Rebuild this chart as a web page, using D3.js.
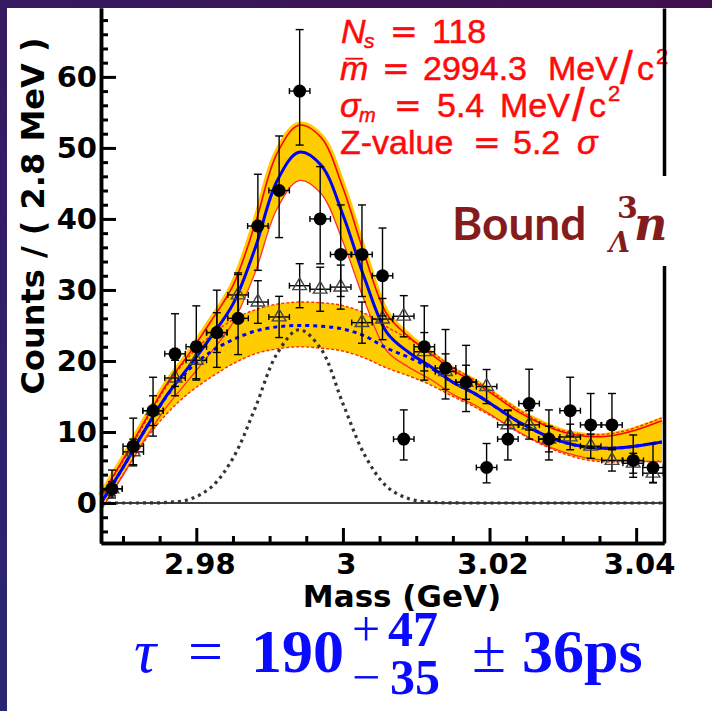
<!doctype html>
<html lang="en">
<head>
  <meta charset="utf-8">
  <title>mass fit</title>
  <style>
    * { margin: 0; padding: 0; box-sizing: border-box; }
    body { width: 712px; height: 711px; overflow: hidden; background: #2e1a5c; }
  </style>
</head>

<body>
  <div class="chart"></div>
  <script src="https://cdn.jsdelivr.net/npm/d3@7"></script>
  <script>
    // ---------------------------------------------------------------
    //@@ data
    const binMass = [2.9685, 2.9714, 2.9741, 2.9771, 2.9800, 2.9828, 2.9857, 2.9884, 2.9913, 2.9941,
                     2.9969, 2.9997, 3.0026, 3.0054, 3.0083, 3.0111, 3.0140, 3.0168, 3.0196, 3.0225,
                     3.0254, 3.0281, 3.0310, 3.0338, 3.0367, 3.0396, 3.0423];
    const binHalfWidth = 0.0014;

    const dataCounts = [2, 8, 13, 21, 22, 24, 26, 39, 44, 58, 40, 35, 35, 32, 9, 22, 19, 17, 5, 9, 14, 9, 13, 11, 11, 6, 5];
    const dataErrLo = [1.29, 2.77, 3.58, 4.58, 4.69, 4.90, 5.10, 6.24, 6.63, 7.60, 6.32, 5.92, 5.92, 5.66, 2.94,
                       4.69, 4.35, 4.12, 2.16, 2.94, 3.72, 2.94, 3.58, 3.27, 3.27, 2.38, 2.16];
    const dataErrHi = [2.64, 3.95, 4.71, 5.65, 5.76, 5.97, 6.17, 7.29, 7.68, 8.66, 7.37, 6.97, 6.97, 6.72, 4.11,
                       5.76, 5.43, 5.20, 3.38, 4.11, 4.84, 4.11, 4.71, 4.42, 4.42, 3.58, 3.38];

    const openCounts = [2, 7.2, 13, 17.6, 20.1, 24, 29.3, 28.3, 26.2, 30.6, 30.1, 30.4, 25.4, 25.9, 26.3,
                        21.3, 18.5, 17.0, 16.4, 11.0, 11.0, 9.0, 9.3, 8.0, 6.0, 5.6, 4.2];
    const openErr = [1.0, 1.8, 2.1, 2.5, 2.6, 2.8, 3.1, 3.0, 2.9, 3.1, 3.1, 3.1, 2.9, 2.9, 2.9,
                     2.7, 2.5, 2.4, 2.4, 2.0, 2.0, 1.8, 1.8, 1.7, 1.5, 1.4, 1.3];

    //@@ fit curves sampled along mass
    const curveMass = [2.967, 2.970, 2.973, 2.976, 2.979, 2.982, 2.985, 2.988, 2.991, 2.994, 2.997, 3.000, 3.003,
                       3.006, 3.009, 3.012, 3.015, 3.018, 3.021, 3.024, 3.027, 3.030, 3.033, 3.036, 3.039, 3.0435];
    const totalFit = [0.0, 5.0, 10.3, 15.2, 19.2, 23.4, 28.0, 35.8, 45.3, 49.4, 47.6, 40.6, 31.5,
                      24.0, 21.2, 19.2, 17.0, 15.4, 13.4, 11.4, 9.8, 8.6, 7.9, 7.7, 7.9, 8.6];
    const totalHi = [1.0, 6.1, 11.6, 16.8, 21.0, 25.6, 30.6, 39.2, 49.2, 53.2, 51.5, 44.4, 34.8,
                     26.6, 23.4, 21.0, 18.7, 17.0, 14.9, 12.8, 11.2, 10.0, 9.4, 9.4, 10.0, 11.6];
    const totalLo = [-1.0, 3.9, 9.0, 13.6, 17.4, 21.2, 25.4, 32.4, 41.4, 45.4, 43.6, 36.8, 28.3,
                     21.4, 19.1, 17.4, 15.3, 13.8, 11.9, 10.0, 8.4, 7.2, 6.4, 6.0, 5.9, 5.8];
    const bkgFit = [0.0, 5.0, 10.3, 15.1, 18.8, 21.3, 23.0, 24.2, 24.8, 25.0, 24.9, 24.5, 23.5,
                    21.8, 20.5, 19.0, 17.0, 15.4, 13.4, 11.4, 9.8, 8.6, 7.9, 7.7, 7.9, 8.6];
    const bkgHi = [0.8, 5.9, 11.3, 16.5, 20.6, 23.6, 25.8, 27.2, 28.0, 28.3, 28.2, 27.8, 26.7,
                   24.8, 23.1, 21.3, 19.1, 17.3, 15.2, 13.1, 11.4, 10.2, 9.6, 9.7, 10.3, 12.0];
    const bkgLo = [-0.8, 4.0, 8.8, 12.6, 15.5, 17.7, 19.6, 21.0, 21.7, 22.0, 21.8, 21.4, 20.4,
                   19.0, 17.9, 16.6, 15.0, 13.5, 11.8, 9.9, 8.3, 7.0, 6.1, 5.8, 5.8, 5.9];
    const signalFit = [0, 0, 0.01, 0.08, 0.5, 2.2, 6.3, 13.3, 21.0, 24.4, 21.7, 14.0, 6.7,
                       2.3, 0.6, 0.11, 0.02, 0, 0, 0, 0, 0, 0, 0, 0, 0];

    //@@ ticks
    const yTicks = [0, 10, 20, 30, 40, 50, 60];
    const xTicks = [2.98, 3.00, 3.02, 3.04];
    const xTickLabels = ['2.98', '3', '3.02', '3.04'];

    // ---------------------------------------------------------------
    //@@ svg configuration
    const svgDim = {w: 712, h: 711};
    const plot = {l: 101, r: 664, t: 8, b: 543};

    const svg = d3.select('.chart').append('svg')
      .attr('width', svgDim.w)
      .attr('height', svgDim.h);

    //@@ slide background
    const grad = svg.append('defs').append('linearGradient')
      .attr('id', 'bg')
      .attr('x1', 0).attr('y1', 1).attr('x2', 1).attr('y2', 0);
    grad.append('stop').attr('offset', 0).attr('stop-color', '#2a2572');
    grad.append('stop').attr('offset', 1).attr('stop-color', '#420f4e');

    svg.append('rect')
      .attr('width', svgDim.w).attr('height', svgDim.h)
      .attr('fill', 'url(#bg)');
    svg.append('rect')
      .attr('x', 7).attr('y', 8)
      .attr('width', svgDim.w - 7).attr('height', svgDim.h - 8)
      .attr('fill', '#fff');

    //@@ scales
    const x = d3.scaleLinear().domain([2.967, 3.0438]).range([plot.l, plot.r]);
    const y = d3.scaleLinear().domain([-5.63, 69.7]).range([plot.b, plot.t]);

    const smooth = d3.curveCatmullRom.alpha(0.5);
    const lineOf = arr => d3.line()
      .x((d, i) => x(curveMass[i]))
      .y((d, i) => y(arr[i]))
      .curve(smooth)(curveMass);
    const bandOf = (lo, hi) => d3.area()
      .x((d, i) => x(curveMass[i]))
      .y0((d, i) => y(lo[i]))
      .y1((d, i) => y(hi[i]))
      .curve(smooth)(curveMass);

    const area = svg.append('g').attr('note', 'plotting-area');

    //@@ error bands
    area.append('path').attr('d', bandOf(bkgLo, bkgHi)).attr('fill', '#ffcc00');
    area.append('path').attr('d', bandOf(totalLo, totalHi)).attr('fill', '#ffcc00');
    area.append('path').attr('d', lineOf(totalHi))
      .attr('fill', 'none').attr('stroke', '#ffcc00').attr('stroke-width', 7);

    //@@ band edges
    [bkgHi, bkgLo].forEach(arr => {
      area.append('path').attr('d', lineOf(arr))
        .attr('fill', 'none').attr('stroke', '#ff2a00')
        .attr('stroke-width', 1.4).attr('stroke-dasharray', '3,2');
    });
    area.append('path').attr('d', lineOf(totalHi))
      .attr('fill', 'none').attr('stroke', '#ff0000').attr('stroke-width', 1.6);
    area.append('path').attr('d', lineOf(totalLo))
      .attr('fill', 'none').attr('stroke', '#ff3030').attr('stroke-width', 1.3);

    //@@ zero line
    area.append('line')
      .attr('x1', x(2.967)).attr('x2', x(3.0438))
      .attr('y1', y(0)).attr('y2', y(0))
      .attr('stroke', '#000').attr('stroke-width', 1.3);

    //@@ fit curves
    area.append('path').attr('d', lineOf(signalFit))
      .attr('fill', 'none').attr('stroke', '#333').attr('stroke-width', 3.2)
      .attr('stroke-dasharray', '3,4');
    area.append('path').attr('d', lineOf(bkgFit))
      .attr('fill', 'none').attr('stroke', '#0000ff').attr('stroke-width', 3)
      .attr('stroke-dasharray', '4,4');
    area.append('path').attr('d', lineOf(totalFit))
      .attr('fill', 'none').attr('stroke', '#0000ff').attr('stroke-width', 3);

    //@@ error bars helper
    function errorBars(g, counts, lo, hi) {
      const bars = g.selectAll('g.err').data(counts).enter().append('g')
        .attr('class', 'err')
        .attr('stroke', '#000').attr('stroke-width', 1.4);
      bars.append('line')
        .attr('x1', (d, i) => x(binMass[i])).attr('x2', (d, i) => x(binMass[i]))
        .attr('y1', (d, i) => y(d - lo[i])).attr('y2', (d, i) => y(d + hi[i]));
      bars.append('line')
        .attr('x1', (d, i) => x(binMass[i] - binHalfWidth)).attr('x2', (d, i) => x(binMass[i] + binHalfWidth))
        .attr('y1', d => y(d)).attr('y2', d => y(d));
      bars.append('line')
        .attr('x1', (d, i) => x(binMass[i]) - 4).attr('x2', (d, i) => x(binMass[i]) + 4)
        .attr('y1', (d, i) => y(d - lo[i])).attr('y2', (d, i) => y(d - lo[i]));
      bars.append('line')
        .attr('x1', (d, i) => x(binMass[i]) - 4).attr('x2', (d, i) => x(binMass[i]) + 4)
        .attr('y1', (d, i) => y(d + hi[i])).attr('y2', (d, i) => y(d + hi[i]));
      [-1, 1].forEach(s => {
        bars.append('line')
          .attr('x1', (d, i) => x(binMass[i] + s * binHalfWidth)).attr('x2', (d, i) => x(binMass[i] + s * binHalfWidth))
          .attr('y1', d => y(d) - 3).attr('y2', d => y(d) + 3);
      });
    }

    //@@ open triangles
    const openG = area.append('g').attr('note', 'open-triangles');
    errorBars(openG, openCounts, openErr, openErr);
    openG.selectAll('path.tri').data(openCounts).enter().append('path')
      .attr('class', 'tri')
      .attr('d', d3.symbol(d3.symbolTriangle, 80))
      .attr('transform', (d, i) => `translate(${x(binMass[i])},${y(d)})`)
      .attr('fill', 'none').attr('stroke', '#444').attr('stroke-width', 1.4);

    //@@ filled circles
    const dataG = area.append('g').attr('note', 'data');
    errorBars(dataG, dataCounts, dataErrLo, dataErrHi);
    dataG.selectAll('circle').data(dataCounts).enter().append('circle')
      .attr('cx', (d, i) => x(binMass[i]))
      .attr('cy', d => y(d))
      .attr('r', 6.5)
      .attr('fill', '#000');

    //@@ red fit summary
    const red = svg.append('g')
      .attr('fill', '#ff0a0a').attr('stroke', '#ff0a0a').attr('stroke-width', 0.5)
      .style('font-family', 'Liberation Sans, Arial, sans-serif');
    const seg = (t, px, py, size, opts = {}) => red.append('text')
      .attr('x', px).attr('y', py).text(t)
      .style('font-size', size + 'px')
      .style('font-style', opts.it ? 'italic' : 'normal')
      .style('font-family', opts.fam || null);
    const eq = 'DejaVu Sans';

    seg('N', 341, 43, 34, {it: 1}); seg('s', 364, 48, 21, {it: 1});
    seg('=', 390, 43, 33, {fam: eq}); seg('118', 432, 43, 34);

    seg('m', 340, 80, 34, {it: 1}); seg('\u00af', 346, 80, 30);
    seg('=', 382, 80, 33, {fam: eq});
    seg('2994.3', 423, 80, 34); seg('MeV', 548, 80, 34);
    seg('/', 620, 84, 46); seg('c', 637, 80, 34); seg('2', 656, 64, 22);

    seg('\u03c3', 340, 117, 34, {it: 1}); seg('m', 359, 122, 20, {it: 1});
    seg('=', 394, 117, 33, {fam: eq}); seg('5.4', 437, 117, 34); seg('MeV', 500, 117, 34);
    seg('/', 572, 121, 46); seg('c', 589, 117, 34); seg('2', 608, 101, 22);

    seg('Z-value', 340, 154, 34); seg('=', 473, 154, 33, {fam: eq});
    seg('5.2', 513, 154, 34); seg('\u03c3', 577, 154, 34, {it: 1});

    //@@ axes
    const yMinor = d3.range(-4, 70, 2).filter(v => v % 10 !== 0);
    const xMinor = d3.range(2.970, 3.0436, 0.005).filter(v => Math.abs(v * 50 - Math.round(v * 50)) > 1e-6);

    svg.append('g').attr('transform', `translate(${plot.l},0)`)
      .call(d3.axisLeft(y).tickValues(yTicks).tickSize(-15).tickSizeOuter(0).tickPadding(4).tickFormat(d3.format('d')));
    svg.append('g').attr('transform', `translate(${plot.l},0)`)
      .call(d3.axisLeft(y).tickValues(yMinor).tickSize(-7).tickSizeOuter(0).tickFormat(''));

    const axisX = svg.append('g').attr('transform', `translate(0,${plot.b})`)
      .call(d3.axisBottom(x).tickValues(xTicks).tickSize(-15).tickSizeOuter(0).tickPadding(10)
        .tickFormat((d, i) => xTickLabels[i]));
    svg.append('g').attr('transform', `translate(0,${plot.b})`)
      .call(d3.axisBottom(x).tickValues(xMinor).tickSize(-7).tickSizeOuter(0).tickFormat(''));

    svg.append('g').attr('transform', `translate(${plot.r},0)`)
      .call(d3.axisRight(y).tickValues([]).tickSizeOuter(0));

    svg.selectAll('.domain').attr('stroke', '#000').attr('stroke-width', 3.5);
    svg.selectAll('.tick line').attr('stroke', '#000').attr('stroke-width', 3);
    svg.selectAll('.tick text')
      .attr('fill', '#000')
      .style('font-family', 'DejaVu Sans, sans-serif')
      .style('font-weight', 'bold')
      .style('font-size', '29px');
    axisX.selectAll('.tick text').attr('dx', 3);

    //@@ axis titles
    svg.append('text')
      .attr('x', 402).attr('y', 607)
      .attr('text-anchor', 'middle')
      .style('font-family', 'DejaVu Sans, sans-serif').style('font-weight', 'bold').style('font-size', '31px')
      .text('Mass (GeV)');
    svg.append('text')
      .attr('transform', 'translate(44,216) rotate(-90)')
      .attr('text-anchor', 'middle')
      .style('font-family', 'DejaVu Sans, sans-serif').style('font-weight', 'bold').style('font-size', '32px')
      .text('Counts / ( 2.8 MeV )');

    //@@ bound label
    svg.append('rect').attr('x', 440).attr('y', 176).attr('width', 272).attr('height', 90).attr('fill', '#fff');
    const bound = svg.append('g').attr('fill', '#841c1c');
    bound.append('text').attr('x', 452).attr('y', 240)
      .style('font-family', 'Lato, sans-serif').style('font-weight', 'bold').style('font-size', '46px')
      .text('Bound');
    bound.append('text').attr('x', 617).attr('y', 218)
      .style('font-family', 'DejaVu Serif, serif').style('font-weight', 'bold').style('font-size', '30px')
      .text('3');
    bound.append('text').attr('x', 609).attr('y', 252)
      .style('font-family', 'DejaVu Serif, serif').style('font-weight', 'bold').style('font-style', 'italic').style('font-size', '27px')
      .text('\u039b');
    bound.append('text').attr('x', 634).attr('y', 240)
      .style('font-family', 'DejaVu Serif, serif').style('font-weight', 'bold').style('font-style', 'italic').style('font-size', '46px')
      .text('n');

    //@@ lifetime formula
    const tau = svg.append('g').attr('fill', '#0a0aff').style('font-family', 'Liberation Serif, serif');
    const tseg = (t, px, py, size, w, it) => tau.append('text')
      .attr('x', px).attr('y', py).text(t)
      .style('font-size', size + 'px')
      .style('font-weight', w ? 'bold' : 'normal')
      .style('font-style', it ? 'italic' : 'normal');
    tseg('\u03c4', 134, 672, 62, 0, 1);
    tseg('=', 188, 672, 62, 0, 0);
    tseg('190', 251, 672, 62, 1, 0);
    tseg('+', 352, 646, 50, 0, 0);
    tseg('47', 388, 646, 50, 1, 0);
    tseg('\u2212', 352, 694, 50, 0, 0);
    tseg('35', 390, 694, 50, 1, 0);
    tseg('\u00b1', 472, 672, 62, 0, 0);
    tseg('36ps', 522, 672, 62, 1, 0);
  </script>
</body>

</html>
